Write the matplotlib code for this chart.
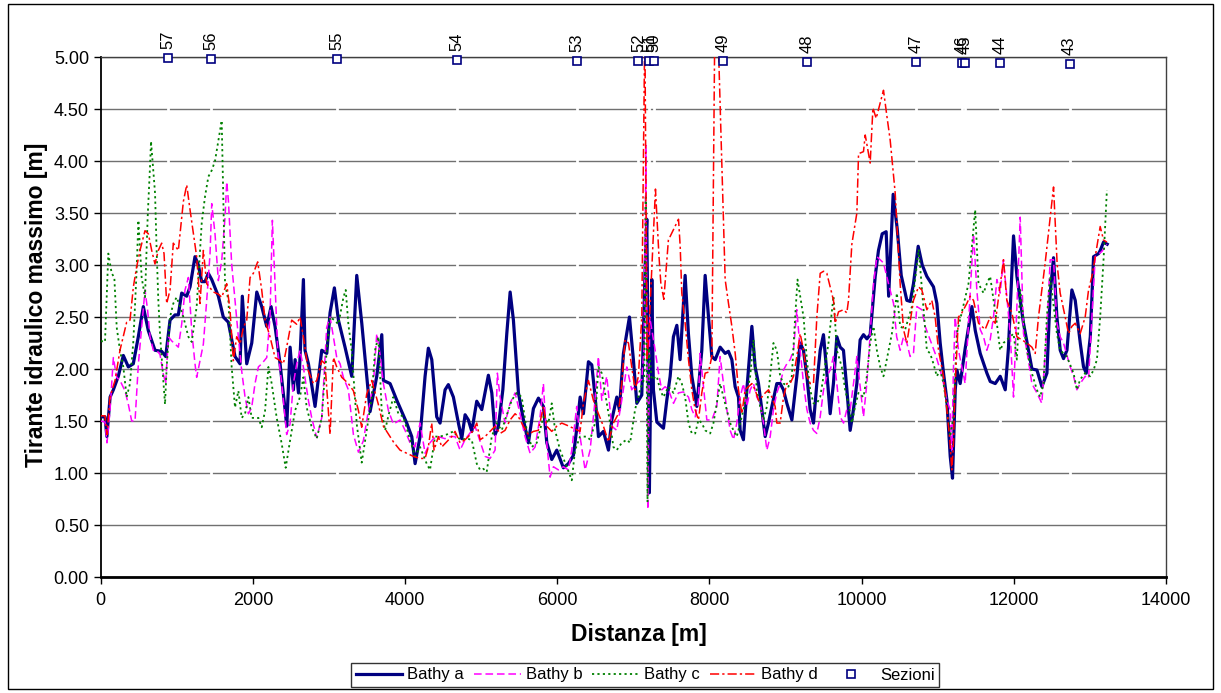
"""Tirante idraulico massimo lungo l'asta: confronto batimetrie a/b/c/d."""

import matplotlib

matplotlib.use("Agg")
import matplotlib.pyplot as plt
import numpy as np
from matplotlib.lines import Line2D
from matplotlib.patches import Rectangle

# ---- data (distance [m], max depth [m]) ----
bathy_a = [
    (0, 1.54), (55, 1.54), (80, 1.35), (122, 1.73), (165, 1.80), (230, 1.93), (296, 2.13), (362, 2.02),
    (427, 2.05), (493, 2.31), (559, 2.60), (624, 2.37), (712, 2.18), (800, 2.17), (853, 2.12), (910, 2.47),
    (975, 2.52), (1019, 2.52), (1063, 2.73), (1129, 2.70), (1173, 2.79), (1238, 3.08), (1282, 3.00),
    (1326, 2.84), (1370, 2.84), (1413, 2.92), (1458, 2.86), (1545, 2.70), (1610, 2.50), (1676, 2.45),
    (1764, 2.12), (1830, 2.05), (1860, 2.70), (1918, 2.05), (1984, 2.25), (2050, 2.74), (2115, 2.60),
    (2181, 2.41), (2238, 2.60), (2290, 2.41), (2356, 2.05), (2422, 1.61), (2444, 1.45), (2488, 2.21),
    (2532, 1.80), (2554, 2.09), (2598, 1.77), (2663, 2.86), (2684, 2.18), (2729, 2.05), (2816, 1.64),
    (2904, 2.18), (2970, 2.15), (3013, 2.54), (3070, 2.78), (3123, 2.47), (3210, 2.21), (3298, 1.93),
    (3364, 2.90), (3430, 2.44), (3539, 1.59), (3627, 1.93), (3693, 2.33), (3714, 1.89), (3802, 1.86),
    (3890, 1.70), (3956, 1.59), (4021, 1.48), (4087, 1.35), (4131, 1.09), (4196, 1.35), (4262, 1.93),
    (4305, 2.20), (4350, 2.09), (4415, 1.54), (4459, 1.48), (4525, 1.80), (4568, 1.85), (4634, 1.73),
    (4700, 1.48), (4744, 1.33), (4788, 1.56), (4831, 1.51), (4876, 1.40), (4941, 1.69), (5007, 1.61),
    (5094, 1.94), (5139, 1.77), (5183, 1.37), (5226, 1.45), (5284, 1.80), (5336, 2.34), (5380, 2.74),
    (5423, 2.47), (5489, 1.77), (5555, 1.51), (5620, 1.29), (5686, 1.62), (5752, 1.72), (5817, 1.64),
    (5862, 1.29), (5927, 1.13), (5993, 1.22), (6080, 1.05), (6146, 1.09), (6212, 1.17), (6256, 1.43),
    (6300, 1.73), (6343, 1.57), (6409, 2.07), (6453, 2.04), (6497, 1.73), (6541, 1.35), (6606, 1.40),
    (6672, 1.22), (6716, 1.51), (6782, 1.73), (6816, 1.61), (6869, 2.15), (6948, 2.50), (7000, 2.09),
    (7045, 1.67), (7110, 1.75), (7154, 2.96), (7176, 3.44), (7210, 0.81), (7242, 2.86), (7263, 1.80),
    (7308, 1.49), (7395, 1.43), (7439, 1.70), (7483, 1.93), (7526, 2.31), (7571, 2.42), (7614, 2.09),
    (7680, 2.90), (7723, 2.34), (7768, 1.93), (7834, 1.64), (7899, 2.18), (7943, 2.90), (7987, 2.50),
    (8031, 2.12), (8075, 2.09), (8140, 2.21), (8206, 2.15), (8249, 2.17), (8294, 2.09), (8337, 1.83),
    (8381, 1.73), (8403, 1.41), (8446, 1.32), (8491, 1.80), (8557, 2.41), (8600, 2.02), (8644, 1.86),
    (8688, 1.61), (8732, 1.35), (8775, 1.48), (8820, 1.64), (8885, 1.86), (8929, 1.86), (8972, 1.80),
    (9017, 1.67), (9083, 1.51), (9148, 1.93), (9192, 2.25), (9235, 2.18), (9280, 1.93), (9323, 1.61),
    (9367, 1.48), (9411, 1.86), (9455, 2.18), (9498, 2.33), (9543, 1.96), (9586, 1.57), (9629, 1.86),
    (9674, 2.31), (9717, 2.21), (9761, 2.18), (9806, 1.80), (9849, 1.41), (9892, 1.61), (9937, 1.86),
    (9980, 2.28), (10024, 2.33), (10069, 2.29), (10112, 2.33), (10178, 2.89), (10221, 3.14),
    (10270, 3.30), (10322, 3.32), (10355, 2.70), (10414, 3.68), (10467, 3.35), (10520, 2.90),
    (10594, 2.66), (10638, 2.65), (10681, 2.82), (10743, 3.18), (10796, 3.00), (10857, 2.89),
    (10944, 2.79), (10989, 2.63), (11032, 2.25), (11076, 1.96), (11120, 1.70), (11164, 1.16),
    (11194, 0.95), (11230, 1.80), (11252, 1.99), (11295, 1.86), (11361, 2.20), (11449, 2.60),
    (11493, 2.37), (11558, 2.15), (11646, 1.96), (11690, 1.88), (11756, 1.86), (11821, 1.93),
    (11861, 1.85), (11887, 1.80), (11930, 2.21), (11975, 2.95), (11996, 3.28), (12041, 2.89),
    (12127, 2.44), (12193, 2.18), (12238, 2.00), (12304, 1.99), (12369, 1.83), (12435, 1.96),
    (12478, 2.73), (12522, 3.07), (12566, 2.50), (12610, 2.18), (12653, 2.10), (12698, 2.18),
    (12763, 2.76), (12807, 2.66), (12873, 2.25), (12916, 2.02), (12952, 1.96), (13005, 2.31),
    (13048, 3.08), (13114, 3.11), (13136, 3.14), (13179, 3.22), (13227, 3.20),
]

bathy_b = [
    (0, 1.50), (55, 1.49), (81, 1.29), (121, 1.60), (165, 2.11), (209, 1.92), (252, 1.89), (318, 1.79),
    (362, 1.66), (406, 1.50), (450, 1.50), (494, 2.05), (581, 2.76), (616, 2.56), (647, 2.31), (691, 2.18),
    (734, 2.18), (778, 2.14), (822, 1.95), (853, 1.86), (888, 2.31), (932, 2.27), (975, 2.24), (1019, 2.21),
    (1063, 2.43), (1107, 2.76), (1151, 2.88), (1195, 2.37), (1238, 2.05), (1260, 1.92), (1304, 2.08),
    (1348, 2.24), (1392, 2.66), (1436, 3.11), (1458, 3.59), (1501, 3.30), (1545, 2.85), (1589, 3.04),
    (1633, 3.46), (1655, 3.80), (1677, 3.62), (1720, 3.01), (1764, 2.66), (1808, 2.31), (1852, 1.98),
    (1896, 1.73), (1940, 1.57), (1983, 1.63), (2027, 1.86), (2071, 2.02), (2115, 2.05), (2181, 2.11),
    (2224, 2.50), (2255, 3.43), (2290, 2.82), (2325, 2.18), (2378, 1.86), (2443, 1.37), (2487, 1.47),
    (2531, 1.86), (2575, 2.05), (2618, 2.18), (2662, 2.02), (2728, 1.70), (2772, 1.53), (2838, 1.34),
    (2904, 1.53), (2969, 2.40), (3013, 2.50), (3057, 2.31), (3101, 2.11), (3145, 2.05), (3188, 1.92),
    (3254, 1.80), (3320, 1.37), (3386, 1.20), (3451, 1.31), (3517, 1.60), (3583, 1.86), (3627, 2.34),
    (3670, 2.14), (3714, 1.86), (3780, 1.60), (3846, 1.47), (3933, 1.51), (3999, 1.41), (4064, 1.29),
    (4130, 1.25), (4196, 1.48), (4262, 1.19), (4327, 1.29), (4371, 1.33), (4437, 1.35), (4524, 1.33),
    (4590, 1.35), (4656, 1.35), (4722, 1.22), (4787, 1.32), (4919, 1.45), (5050, 1.16), (5116, 1.14),
    (5182, 1.22), (5212, 1.96), (5248, 1.73), (5313, 1.48), (5379, 1.67), (5445, 1.77), (5510, 1.57),
    (5576, 1.35), (5642, 1.19), (5708, 1.25), (5773, 1.54), (5817, 1.86), (5861, 1.29), (5905, 0.96),
    (5949, 1.06), (6014, 1.03), (6080, 1.06), (6146, 1.03), (6190, 1.22), (6255, 1.64), (6299, 1.35),
    (6365, 1.03), (6431, 1.22), (6496, 1.70), (6540, 2.12), (6584, 1.70), (6650, 1.93), (6715, 1.45),
    (6781, 1.41), (6847, 1.70), (6913, 2.02), (6978, 1.80), (7044, 1.86), (7110, 1.90), (7140, 2.20),
    (7165, 4.15), (7190, 0.65), (7215, 2.50), (7286, 2.18), (7330, 1.96), (7373, 1.80), (7417, 1.83),
    (7461, 1.80), (7527, 1.67), (7592, 1.77), (7658, 1.78), (7724, 1.73), (7768, 1.61), (7812, 1.54),
    (7855, 1.70), (7877, 2.15), (7965, 1.51), (8031, 1.51), (8096, 1.64), (8140, 2.12), (8184, 1.86),
    (8228, 1.61), (8272, 1.41), (8316, 1.32), (8359, 1.48), (8403, 1.73), (8447, 1.86), (8491, 1.64),
    (8535, 1.80), (8578, 1.86), (8622, 1.73), (8666, 1.67), (8710, 1.48), (8754, 1.22), (8798, 1.35),
    (8841, 1.61), (8885, 1.77), (8929, 1.86), (8973, 1.99), (9017, 2.05), (9060, 2.09), (9104, 2.18),
    (9148, 2.57), (9192, 2.18), (9236, 1.86), (9280, 1.61), (9323, 1.48), (9367, 1.41), (9411, 1.38),
    (9455, 1.54), (9499, 1.80), (9542, 1.93), (9586, 1.99), (9630, 2.12), (9674, 1.86), (9718, 1.54),
    (9762, 1.48), (9805, 1.61), (9849, 1.61), (9893, 1.86), (9937, 2.12), (10024, 1.54), (10068, 1.86),
    (10112, 2.34), (10156, 2.82), (10200, 3.08), (10287, 3.02), (10353, 2.82), (10419, 2.63),
    (10460, 2.31), (10506, 2.18), (10550, 2.31), (10594, 2.25), (10637, 2.12), (10681, 2.15),
    (10725, 2.60), (10791, 2.57), (10835, 2.41), (10900, 2.28), (10966, 2.15), (11032, 1.99),
    (11076, 1.86), (11120, 1.70), (11163, 1.61), (11185, 1.22), (11207, 2.02), (11229, 2.50),
    (11273, 2.18), (11360, 1.86), (11470, 3.30), (11514, 2.76), (11558, 2.38), (11602, 2.31),
    (11645, 2.18), (11689, 2.28), (11733, 2.50), (11777, 2.86), (11820, 2.73), (11864, 3.05),
    (11952, 2.34), (11996, 1.73), (12084, 3.46), (12127, 2.34), (12171, 2.18), (12237, 1.86),
    (12303, 1.77), (12368, 1.67), (12434, 2.40), (12478, 3.05), (12522, 3.05), (12566, 2.44),
    (12609, 2.31), (12653, 2.25), (12741, 2.02), (12785, 1.93), (12829, 1.80), (12872, 1.86),
    (12938, 1.93), (12982, 1.91), (13026, 2.50), (13070, 3.08), (13157, 3.13), (13223, 3.20),
]

bathy_c = [
    (0, 2.27), (55, 2.26), (99, 3.11), (143, 2.92), (178, 2.88), (209, 2.40), (252, 2.18), (296, 2.02),
    (340, 1.73), (384, 1.86), (428, 2.27), (471, 2.95), (494, 3.43), (537, 2.88), (581, 2.69), (616, 3.46),
    (647, 3.95), (660, 4.19), (713, 3.69), (734, 3.14), (756, 2.66), (778, 2.34), (800, 2.11), (844, 1.66),
    (866, 2.02), (910, 2.50), (953, 2.63), (997, 2.69), (1041, 2.60), (1085, 2.50), (1151, 2.31),
    (1195, 2.26), (1260, 2.60), (1326, 3.40), (1370, 3.66), (1414, 3.85), (1458, 3.91), (1501, 4.00),
    (1589, 4.39), (1611, 3.62), (1633, 2.82), (1677, 2.66), (1720, 2.02), (1764, 1.63), (1808, 1.79),
    (1852, 1.53), (1896, 1.57), (1940, 1.73), (1983, 1.53), (2027, 1.53), (2071, 1.53), (2115, 1.44),
    (2159, 1.60), (2203, 2.02), (2246, 1.86), (2312, 1.53), (2378, 1.28), (2430, 1.05), (2487, 1.31),
    (2553, 1.60), (2618, 1.73), (2662, 1.92), (2706, 1.63), (2772, 1.44), (2838, 1.33), (2904, 1.53),
    (2969, 2.18), (3013, 2.50), (3070, 2.47), (3123, 2.43), (3189, 2.69), (3219, 2.76), (3254, 2.43),
    (3298, 2.18), (3364, 1.47), (3429, 1.10), (3495, 1.41), (3561, 1.73), (3604, 2.18), (3648, 2.31),
    (3692, 1.60), (3736, 1.41), (3780, 1.55), (3845, 1.73), (3911, 1.57), (3977, 1.54), (4064, 1.32),
    (4130, 1.16), (4196, 1.25), (4283, 1.09), (4327, 1.03), (4393, 1.35), (4459, 1.35), (4546, 1.37),
    (4634, 1.40), (4722, 1.32), (4809, 1.33), (4875, 1.32), (4941, 1.09), (4985, 1.03), (5028, 1.04),
    (5072, 1.01), (5138, 1.35), (5204, 1.48), (5269, 1.41), (5401, 1.70), (5467, 1.77), (5532, 1.73),
    (5598, 1.41), (5664, 1.25), (5730, 1.29), (5817, 1.54), (5883, 1.48), (5927, 1.67), (5971, 1.41),
    (6036, 1.22), (6124, 1.06), (6190, 0.93), (6233, 1.22), (6299, 1.35), (6387, 1.35), (6431, 1.32),
    (6496, 1.48), (6540, 2.02), (6584, 1.96), (6694, 1.48), (6737, 1.25), (6781, 1.22), (6847, 1.29),
    (6913, 1.32), (6957, 1.29), (7022, 1.61), (7088, 1.80), (7140, 1.90), (7162, 3.65), (7185, 0.72),
    (7205, 2.20), (7240, 1.90), (7308, 1.93), (7351, 1.80), (7395, 1.73), (7461, 1.83), (7527, 1.77),
    (7592, 1.93), (7636, 1.86), (7680, 1.73), (7724, 1.48), (7768, 1.38), (7812, 1.38), (7855, 1.51),
    (7899, 1.48), (7943, 1.41), (8009, 1.38), (8052, 1.48), (8140, 1.86), (8184, 1.73), (8272, 1.48),
    (8315, 1.41), (8359, 1.35), (8403, 1.48), (8447, 1.61), (8491, 1.77), (8535, 1.93), (8578, 2.28),
    (8622, 1.80), (8666, 1.64), (8710, 1.51), (8754, 1.64), (8797, 1.93), (8841, 2.25), (8885, 2.18),
    (8929, 1.93), (8973, 1.86), (9038, 1.83), (9082, 1.93), (9126, 2.50), (9157, 2.86), (9192, 2.70),
    (9236, 2.50), (9280, 2.09), (9323, 1.80), (9367, 1.67), (9411, 1.67), (9455, 1.73), (9499, 1.93),
    (9564, 2.25), (9630, 2.70), (9674, 2.18), (9739, 2.02), (9783, 1.80), (9827, 1.67), (9871, 1.48),
    (9914, 1.64), (9958, 1.77), (10024, 1.73), (10068, 1.93), (10112, 2.25), (10156, 2.41),
    (10200, 2.18), (10244, 2.02), (10287, 1.93), (10397, 2.34), (10463, 2.73), (10506, 2.41),
    (10572, 2.38), (10660, 2.60), (10750, 3.15), (10857, 2.18), (10900, 2.15), (10944, 2.05),
    (10988, 1.93), (11032, 1.99), (11076, 1.86), (11120, 1.64), (11163, 1.35), (11207, 1.54),
    (11251, 2.34), (11404, 2.82), (11492, 3.53), (11536, 2.82), (11602, 2.73), (11645, 2.82),
    (11689, 2.89), (11777, 2.44), (11820, 2.18), (11864, 2.25), (11996, 2.34), (12040, 2.09),
    (12084, 2.76), (12171, 2.18), (12237, 1.96), (12303, 1.80), (12346, 1.73), (12390, 1.86),
    (12434, 2.50), (12478, 2.89), (12566, 2.34), (12609, 2.18), (12697, 2.12), (12785, 1.96),
    (12829, 1.80), (12872, 1.90), (12938, 1.96), (13004, 1.93), (13048, 1.99), (13092, 2.09),
    (13135, 2.50), (13179, 3.05), (13223, 3.72),
]

bathy_d = [
    (0, 1.55), (55, 1.55), (81, 1.37), (121, 1.73), (187, 1.89), (252, 2.18), (340, 2.45), (384, 2.47),
    (428, 2.79), (471, 2.98), (515, 3.14), (581, 3.33), (625, 3.30), (669, 3.14), (712, 3.01), (756, 3.14),
    (800, 3.21), (831, 3.11), (866, 2.63), (910, 2.76), (953, 3.21), (1019, 3.14), (1085, 3.61),
    (1129, 3.77), (1173, 3.53), (1217, 3.30), (1260, 3.08), (1304, 2.63), (1348, 3.14), (1392, 2.82),
    (1480, 2.74), (1545, 2.72), (1589, 2.69), (1655, 2.82), (1699, 2.56), (1742, 2.08), (1786, 2.31),
    (1830, 2.24), (1874, 2.40), (1918, 2.47), (1962, 2.88), (2005, 2.92), (2062, 3.03), (2115, 2.76),
    (2159, 2.47), (2224, 2.31), (2290, 2.11), (2356, 2.08), (2400, 2.05), (2443, 2.21), (2509, 2.47),
    (2575, 2.43), (2619, 2.50), (2662, 2.31), (2728, 1.98), (2794, 1.86), (2838, 1.89), (2904, 2.08),
    (2947, 2.05), (2991, 1.60), (3013, 1.37), (3057, 2.11), (3101, 2.02), (3167, 1.92), (3254, 1.86),
    (3320, 1.79), (3386, 1.60), (3429, 1.44), (3495, 1.76), (3561, 1.89), (3648, 1.66), (3714, 1.45),
    (3758, 1.40), (3845, 1.30), (3933, 1.22), (4021, 1.19), (4108, 1.16), (4196, 1.14), (4262, 1.14),
    (4305, 1.25), (4349, 1.48), (4380, 1.22), (4437, 1.35), (4481, 1.25), (4546, 1.30), (4612, 1.35),
    (4656, 1.40), (4722, 1.29), (4787, 1.32), (4831, 1.35), (4897, 1.41), (4941, 1.48), (4985, 1.32),
    (5050, 1.35), (5116, 1.40), (5182, 1.45), (5248, 1.38), (5313, 1.41), (5379, 1.51), (5445, 1.57),
    (5489, 1.54), (5554, 1.45), (5620, 1.37), (5686, 1.40), (5751, 1.41), (5817, 1.64), (5861, 1.45),
    (5927, 1.40), (5993, 1.45), (6058, 1.48), (6124, 1.46), (6212, 1.43), (6299, 1.40), (6343, 1.67),
    (6409, 1.89), (6474, 1.70), (6540, 1.57), (6606, 1.45), (6672, 1.30), (6737, 1.48), (6803, 1.57),
    (6847, 1.86), (6891, 2.28), (6935, 2.25), (6978, 2.02), (7022, 1.80), (7066, 1.93), (7110, 2.50),
    (7150, 5.30), (7180, 2.10), (7200, 2.30), (7290, 3.73), (7335, 3.10), (7360, 2.83), (7400, 2.67),
    (7460, 3.24), (7593, 3.44), (7615, 3.18), (7636, 2.73), (7680, 2.44), (7724, 2.09), (7768, 1.80),
    (7811, 1.61), (7855, 1.51), (7899, 1.77), (7943, 1.96), (7987, 1.97), (8031, 2.12), (8070, 5.30),
    (8110, 5.30), (8206, 2.86), (8250, 2.63), (8294, 2.41), (8338, 2.15), (8381, 1.80), (8425, 1.57),
    (8469, 1.80), (8513, 1.83), (8557, 1.86), (8600, 1.80), (8644, 1.70), (8688, 1.73), (8732, 1.77),
    (8776, 1.80), (8820, 1.73), (8863, 1.64), (8885, 1.48), (8929, 1.48), (8973, 1.73), (9017, 1.86),
    (9060, 1.86), (9104, 1.93), (9148, 2.12), (9192, 2.34), (9236, 2.18), (9280, 1.93), (9323, 1.86),
    (9367, 1.86), (9411, 2.50), (9455, 2.92), (9499, 2.94), (9542, 2.92), (9586, 2.79), (9630, 2.66),
    (9652, 2.44), (9696, 2.55), (9761, 2.57), (9805, 2.54), (9827, 2.66), (9871, 3.20), (9937, 3.50),
    (9959, 4.07), (10024, 4.09), (10047, 4.25), (10112, 3.98), (10148, 4.51), (10191, 4.41),
    (10287, 4.68), (10332, 4.43), (10375, 4.20), (10441, 3.69), (10506, 2.82), (10550, 2.38),
    (10594, 2.25), (10681, 2.66), (10747, 2.79), (10791, 2.76), (10857, 2.57), (10922, 2.66),
    (10966, 2.50), (11010, 2.18), (11076, 1.93), (11155, 1.35), (11185, 1.03), (11207, 1.29),
    (11229, 1.86), (11273, 2.50), (11317, 2.54), (11382, 2.63), (11426, 2.70), (11470, 2.66),
    (11536, 2.44), (11623, 2.38), (11689, 2.50), (11755, 2.44), (11820, 2.80), (11864, 3.05),
    (11908, 2.66), (11974, 2.54), (12040, 2.31), (12105, 2.28), (12171, 2.25), (12237, 2.21),
    (12281, 2.15), (12324, 2.50), (12368, 2.76), (12412, 3.02), (12522, 3.75), (12570, 3.00),
    (12609, 2.73), (12675, 2.50), (12719, 2.34), (12763, 2.41), (12807, 2.44), (12872, 2.34),
    (12938, 2.50), (12982, 2.76), (13026, 2.89), (13070, 3.08), (13135, 3.37), (13179, 3.24),
    (13223, 3.22),
]

sez_names = ["57", "56", "55", "54", "53", "52", "51", "50", "49", "48", "47", "46", "45", "44", "43"]
sez_dist = [888, 1444, 3109, 4678, 6260, 7066, 7211, 7272, 8184, 9288, 10713, 11317, 11361, 11821, 12732]
sez_level = [4.99, 4.98, 4.98, 4.97, 4.96, 4.96, 4.96, 4.96, 4.96, 4.95, 4.95, 4.94, 4.94, 4.94, 4.93]

W_PX, H_PX = 1221, 693
C_A = "#000080"
C_B = "#ff00ff"
C_C = "#008000"
C_D = "#ff0000"

plt.rcParams["font.family"] = ["Liberation Sans", "DejaVu Sans"]

fig = plt.figure(figsize=(W_PX / 100, H_PX / 100), dpi=100)
x0, x1, y0, y1 = 100.8, 1166.0, 57.0, 577.0
ax = fig.add_axes([x0 / W_PX, 1 - y1 / H_PX, (x1 - x0) / W_PX, (y1 - y0) / H_PX])

ax.set_xlim(0, 14000)
ax.set_ylim(0, 5)
ax.set_xticks(np.arange(0, 14001, 2000))
ax.set_yticks(np.arange(0, 5.01, 0.5))
ax.set_yticklabels([f"{v:.2f}" for v in np.arange(0, 5.01, 0.5)])
ax.tick_params(axis="both", labelsize=13, direction="out", length=5, width=1, color="black")
ax.tick_params(axis="x", pad=6)
ax.yaxis.grid(True, color="#707070", lw=1.0)
ax.set_axisbelow(True)
for side in ("left", "bottom"):
    ax.spines[side].set_color("black")
ax.spines["left"].set_linewidth(1.3)
ax.spines["bottom"].set_linewidth(2.0)
for side in ("top", "right"):
    ax.spines[side].set_color("#404040")
    ax.spines[side].set_linewidth(1.0)

# white cuts through the gridlines at each cross-section
for d in sez_dist:
    ax.plot([d, d], [0.75, 5.0], color="white", lw=2.0, zorder=1.5, solid_capstyle="butt")


def _xy(pairs):
    return [p[0] for p in pairs], [p[1] for p in pairs]


xa, ya = _xy(bathy_a)
xb, yb = _xy(bathy_b)
xc, yc = _xy(bathy_c)
xd, yd = _xy(bathy_d)

ax.plot(xa, ya, color=C_A, lw=2.3, zorder=3, solid_joinstyle="round")
ax.plot(xb, yb, color=C_B, lw=1.1, dashes=(5, 2.5), zorder=3.1)
ax.plot(xc, yc, color=C_C, lw=1.3, dashes=(1.2, 1.8), zorder=3.2)
ax.plot(xd, yd, color=C_D, lw=1.1, dashes=(6, 2, 1.5, 2), zorder=3.3)

ax.plot(sez_dist, sez_level, ls="none", marker="s", ms=6, mfc="white", mec=C_A, mew=1.2,
        clip_on=False, zorder=6)
for name, d, lev in zip(sez_names, sez_dist, sez_level):
    ax.annotate(name, xy=(d, lev), xytext=(0, 6.5), textcoords="offset points", rotation=90,
                ha="center", va="bottom", fontsize=12, annotation_clip=False)

fig.text(37 / W_PX, 1 - 305 / H_PX, "Tirante idraulico massimo [m]", rotation=90, ha="center",
         va="center", fontsize=16.5, fontweight="bold")
fig.text(639 / W_PX, 1 - 634 / H_PX, "Distanza [m]", ha="center", va="center", fontsize=16.5,
         fontweight="bold")

handles = [
    Line2D([], [], color=C_A, lw=2.3),
    Line2D([], [], color=C_B, lw=1.1, dashes=(5, 2.5)),
    Line2D([], [], color=C_C, lw=1.3, dashes=(1.2, 1.8)),
    Line2D([], [], color=C_D, lw=1.1, dashes=(6, 2, 1.5, 2)),
    Line2D([], [], ls="none", marker="s", ms=6, mfc="white", mec=C_A, mew=1.2),
]
labels = ["Bathy a", "Bathy b", "Bathy c", "Bathy d", "Sezioni"]
leg = fig.legend(handles, labels, loc="center", bbox_to_anchor=(645 / W_PX, 1 - 675 / H_PX), ncol=5,
                 fontsize=12, frameon=True, fancybox=False, edgecolor="black", handlelength=2.8,
                 handletextpad=0.3, columnspacing=0.6, borderpad=0.25, borderaxespad=0.0)
leg.get_frame().set_linewidth(1.0)

fig.patches.append(Rectangle((8 / W_PX, 4 / H_PX), (1213 - 8) / W_PX, (689 - 4) / H_PX,
                             transform=fig.transFigure, fill=False, ec="black", lw=1.0))

fig.savefig("out.png", dpi=100)
